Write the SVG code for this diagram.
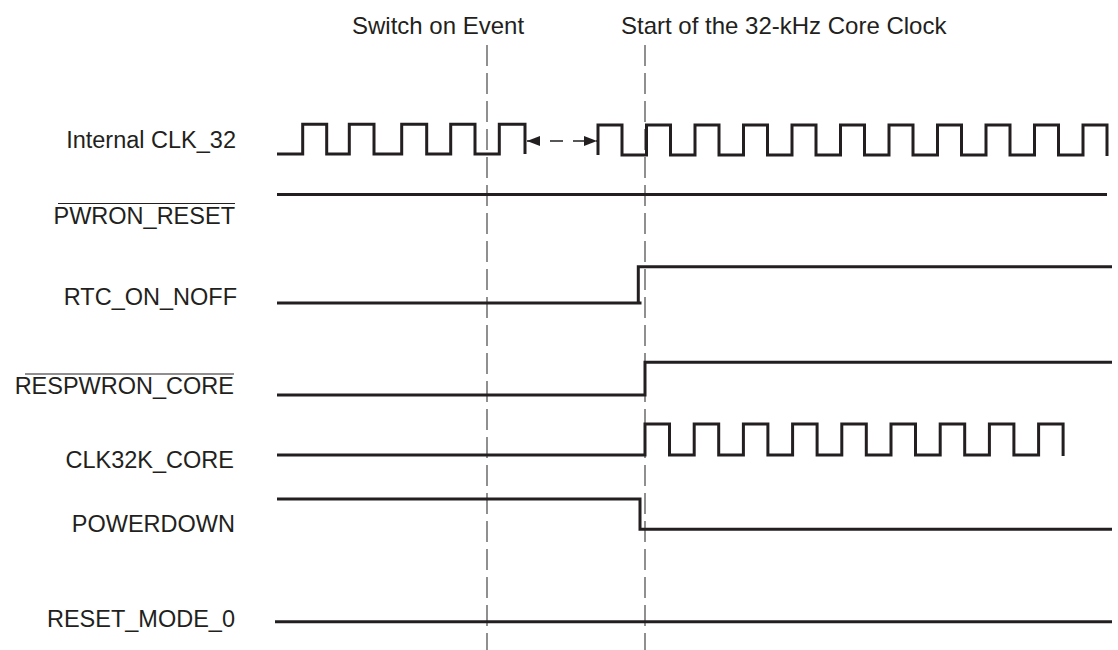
<svg xmlns="http://www.w3.org/2000/svg" width="1118" height="650" viewBox="0 0 1118 650">
<defs>
<marker id="ah" viewBox="0 0 13 10" refX="13" refY="5" markerWidth="13" markerHeight="10" markerUnits="userSpaceOnUse" orient="auto-start-reverse">
<path d="M0,0 L13,5 L0,10 Z" fill="#231f20"/>
</marker>
<style>
text{font-family:"Liberation Sans",Arial,sans-serif;font-size:23.5px;fill:#231f20}
.lbl{text-anchor:end}
.title{font-size:24px}
.sig{fill:none;stroke:#231f20;stroke-width:3;stroke-linejoin:miter;stroke-linecap:butt}
.ovl{stroke:#231f20;stroke-width:1.2}
.guide{stroke:#555;stroke-width:1.3;stroke-dasharray:21 7;fill:none}
.arr{stroke:#231f20;stroke-width:1.3;stroke-dasharray:13 10;fill:none}
</style>
</defs>
<rect width="1118" height="650" fill="#fff"/>

<g id="titles">
<text class="title" x="438" y="34" text-anchor="middle">Switch on Event</text>
<text class="title" x="621" y="34">Start of the 32-kHz Core Clock</text>
</g>

<g id="connectors">
<line class="guide" x1="487" y1="45" x2="487" y2="650"/>
<line class="guide" x1="645" y1="45" x2="645" y2="650"/>
<line class="arr" x1="527" y1="141" x2="597" y2="141" marker-start="url(#ah)" marker-end="url(#ah)"/>
</g>

<g id="internal-clk32">
<text class="lbl" x="236" y="148">Internal CLK_32</text>
<path class="sig" d="M277,154 H302.7 V124.3 H326.7 V154 H349.3 V124.3 H374 V154 H401.7 V124.3 H426.7 V154 H450.7 V124.3 H475 V154 H499.3 V124.3 H525 V154"/>
<path class="sig" d="M598,155 V125 H622 V155 H646.5 V125 H670.5 V155 H695 V125 H719 V155 H743.5 V125 H767.5 V155 H792 V125 H816 V155 H840.5 V125 H864.5 V155 H889 V125 H913 V155 H937.5 V125 H961.5 V155 H986 V125 H1010 V155 H1034.5 V125 H1058.5 V155 H1083 V125 H1107 V156"/>
</g>

<g id="pwron-reset">
<text class="lbl" x="235" y="224">PWRON_RESET</text>
<line class="ovl" x1="58" y1="203.5" x2="235" y2="203.5"/>
<path class="sig" d="M277,194.5 H1107"/>
</g>

<g id="rtc-on-noff">
<text class="lbl" x="237" y="305">RTC_ON_NOFF</text>
<path class="sig" d="M277,303 H641.5 M638.3,303 V266.7 H1112"/>
</g>

<g id="respwron-core">
<text class="lbl" x="234" y="394">RESPWRON_CORE</text>
<line class="ovl" x1="25" y1="374" x2="234" y2="374"/>
<path class="sig" d="M277,395 H645 V362.3 H1112"/>
</g>

<g id="clk32k-core">
<text class="lbl" x="234" y="468">CLK32K_CORE</text>
<path class="sig" d="M277,455 H645 V424 H669.5 V455 H694.2 V424 H718.7 V455 H743.4 V424 H767.9 V455 H792.6 V424 H817.1 V455 H841.8 V424 H866.3 V455 H891 V424 H915.5 V455 H940.2 V424 H964.7 V455 H989.4 V424 H1013.9 V455 H1038.6 V424 H1063.1 V456"/>
</g>

<g id="powerdown">
<text class="lbl" x="235" y="532">POWERDOWN</text>
<path class="sig" d="M277,499 H640 V529.3 H1112"/>
</g>

<g id="reset-mode-0">
<text class="lbl" x="235" y="627">RESET_MODE_0</text>
<path class="sig" d="M275,621.7 H1112"/>
</g>
</svg>
